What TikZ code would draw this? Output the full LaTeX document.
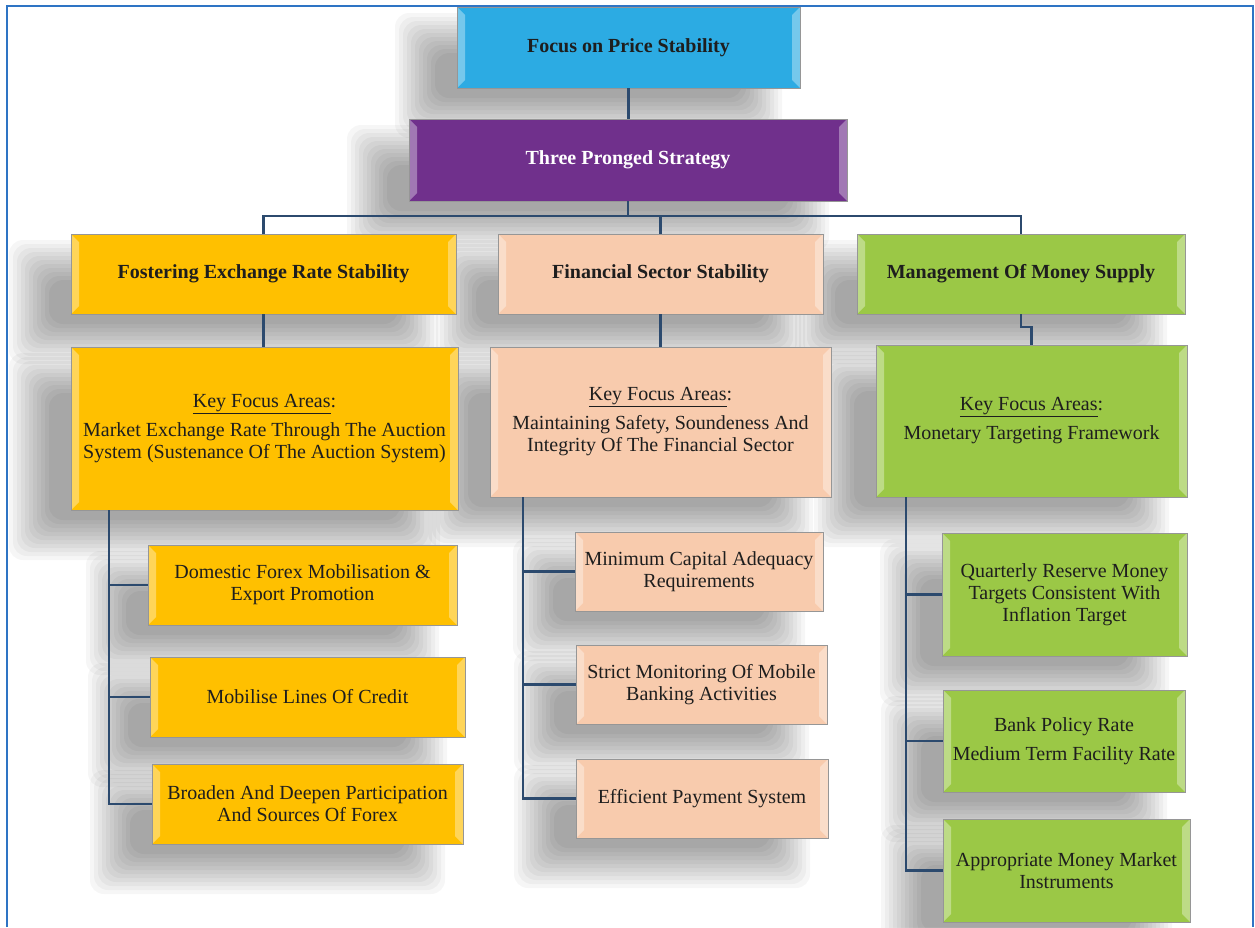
\documentclass[tikz,border=0pt]{standalone}
\usepackage{fontspec}
\setmainfont{Liberation Serif}
\definecolor{cyanbox}{RGB}{44,171,227}
\definecolor{purplebox}{RGB}{112,48,140}
\definecolor{yellowbox}{RGB}{255,192,0}
\definecolor{peachbox}{RGB}{248,203,173}
\definecolor{greenbox}{RGB}{155,200,70}
\definecolor{boxborder}{RGB}{150,150,150}
\definecolor{textdark}{RGB}{30,30,30}
\definecolor{linkcol}{RGB}{44,74,110}
\definecolor{framecol}{RGB}{46,116,196}
\pgfdeclarelayer{background}
\pgfsetlayers{background,main}
\tikzset{
  bevel/.style={path picture={
    \fill[white,opacity=0.35] (path picture bounding box.north west) -- ([xshift=8pt,yshift=-8pt]path picture bounding box.north west) -- ([xshift=8pt,yshift=8pt]path picture bounding box.south west) -- (path picture bounding box.south west) -- cycle;
    \fill[white,opacity=0.35] (path picture bounding box.north east) -- ([xshift=-8pt,yshift=-8pt]path picture bounding box.north east) -- ([xshift=-8pt,yshift=8pt]path picture bounding box.south east) -- (path picture bounding box.south east) -- cycle;
  }},
  box/.style={draw=boxborder, line width=0.8pt, inner sep=0pt, outer sep=0pt,
    align=center, text=textdark, font={\fontsize{20}{22}\selectfont}, bevel},
  titlebox/.style={box, font={\fontsize{20}{22}\selectfont\bfseries}},
  link/.style={draw=linkcol, line width=2.6pt},
  frame/.style={draw=framecol, line width=2pt},
  shadowlayer/.style={fill=black, opacity=0.036, rounded corners=14pt},
}
\begin{document}
\begin{tikzpicture}[x=1pt,y=-1pt]
\useasboundingbox (0,0) rectangle (1255,927);

% level 1 and 2
\node[titlebox, fill=cyanbox, minimum width=343pt, minimum height=81pt] (top) at (628.5,47.5) {Focus on Price Stability};
\node[titlebox, fill=purplebox, text=white, minimum width=438pt, minimum height=82pt] (three) at (628,160) {Three Pronged Strategy};

% level 3
\node[titlebox, fill=yellowbox, minimum width=385pt, minimum height=80pt] (fer) at (263.5,274) {Fostering Exchange Rate Stability};
\node[titlebox, fill=peachbox, minimum width=325pt, minimum height=80pt] (fss) at (660.5,274) {Financial Sector Stability};
\node[titlebox, fill=greenbox, minimum width=328pt, minimum height=80pt] (mms) at (1021,274) {Management Of Money Supply};

% key focus areas
\node[box, fill=yellowbox, minimum width=387pt, minimum height=163pt] (kfa1) at (264.5,428.5)
  {\underline{Key Focus Areas}:\\[7pt]Market Exchange Rate Through The Auction\\System (Sustenance Of The Auction System)};
\node[box, fill=peachbox, minimum width=341pt, minimum height=150pt] (kfa2) at (660.5,422)
  {\underline{Key Focus Areas}:\\[7pt]Maintaining Safety, Soundeness And\\Integrity Of The Financial Sector};
\node[box, fill=greenbox, minimum width=311pt, minimum height=152pt] (kfa3) at (1031.5,421)
  {\underline{Key Focus Areas}:\\[7pt]Monetary Targeting Framework};

% left children
\node[box, fill=yellowbox, minimum width=309pt, minimum height=80pt] (L1) at (302.5,585) {Domestic Forex Mobilisation \&\\Export Promotion};
\node[box, fill=yellowbox, minimum width=315pt, minimum height=80pt] (L2) at (307.5,697) {Mobilise Lines Of Credit};
\node[box, fill=yellowbox, minimum width=311pt, minimum height=80pt] (L3) at (307.5,804) {Broaden And Deepen Participation\\And Sources Of Forex};

% middle children
\node[box, fill=peachbox, minimum width=248pt, minimum height=79pt] (M1) at (699,571.5) {Minimum Capital Adequacy\\Requirements};
\node[box, fill=peachbox, minimum width=251pt, minimum height=79pt] (M2) at (701.5,684.5) {Strict Monitoring Of Mobile\\Banking Activities};
\node[box, fill=peachbox, minimum width=252pt, minimum height=79pt] (M3) at (702,798.5) {Efficient Payment System};

% right children
\node[box, fill=greenbox, minimum width=245pt, minimum height=123pt] (R1) at (1064.5,594.5) {Quarterly Reserve Money\\Targets Consistent With\\Inflation Target};
\node[box, fill=greenbox, minimum width=242pt, minimum height=102pt] (R2) at (1064,741) {Bank Policy Rate\\[7pt]Medium Term Facility Rate};
\node[box, fill=greenbox, minimum width=247pt, minimum height=103pt] (R3) at (1066.5,870.5) {Appropriate Money Market\\Instruments};

% background: page, frame, soft shadows
\begin{pgfonlayer}{background}
\fill[white] (0,0) rectangle (1255,927);
\foreach \n in {top,three,fer,fss,mms,kfa1,kfa2,kfa3,L1,L2,L3,M1,M2,M3,R1,R2,R3}{
  \foreach \r in {-18,-14,...,22}{
    \pgfmathsetmacro\xa{-40-\r}
    \pgfmathsetmacro\ya{-28+\r}
    \pgfmathsetmacro\xb{-40+\r}
    \pgfmathsetmacro\yb{-28-\r}
    \fill[shadowlayer] ([xshift=\xa pt, yshift=\ya pt]\n.north west) rectangle ([xshift=\xb pt, yshift=\yb pt]\n.south east);
  }
}
\draw[frame] (7,927) -- (7,6) -- (1253,6) -- (1253,927);
\end{pgfonlayer}

% connectors
\draw[link] (top.south) -- (top.south |- three.north);
\draw[link] (three.south) -- ++(0,15) coordinate (bus);
\draw[link] (fer.north) |- (bus) -| (mms.north);
\draw[link] (bus) -| (fss.north);
\draw[link] (fer.south) -- (fer.south |- kfa1.north);
\draw[link] (fss.south) -- (fss.south |- kfa2.north);
\draw[link] (mms.south) -- ++(0,13) -| (kfa3.north);

\coordinate (ltop) at ([xshift=-155.5pt]kfa1.south);
\draw[link] (ltop) |- (L1.west);
\draw[link] (ltop) |- (L2.west);
\draw[link] (ltop) |- (L3.west);

\coordinate (mtop) at ([xshift=-137.5pt]kfa2.south);
\draw[link] (mtop) |- (M1.west);
\draw[link] (mtop) |- (M2.west);
\draw[link] (mtop) |- (M3.west);

\coordinate (rtop) at ([xshift=-125.5pt]kfa3.south);
\draw[link] (rtop) |- (R1.west);
\draw[link] (rtop) |- (R2.west);
\draw[link] (rtop) |- (R3.west);
\end{tikzpicture}
\end{document}
